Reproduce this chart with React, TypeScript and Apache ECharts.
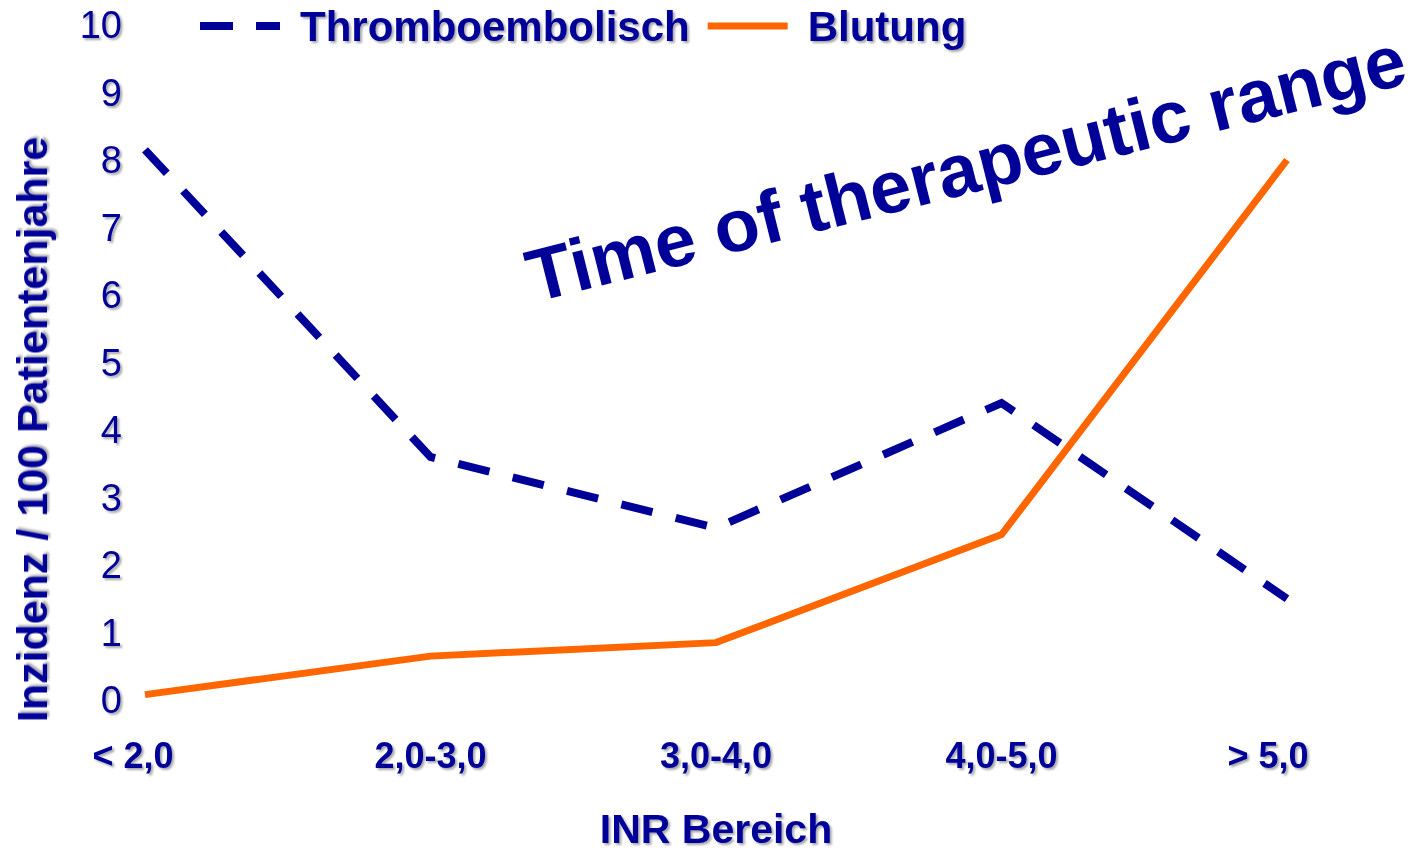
import React, { useEffect, useRef } from "react";
import * as echarts from "echarts";

const categories = ["< 2,0", "2,0-3,0", "3,0-4,0", "4,0-5,0", "> 5,0"];
const thromboValues = [8.15, 3.6, 2.55, 4.4, 1.5];
const blutungValues = [0.08, 0.65, 0.85, 2.45, 8.0];
const seriesNames = ["Thromboembolisch", "Blutung"];
const yAxisName = "Inzidenz / 100 Patientenjahre";
const xAxisName = "INR Bereich";
const annotation = "Time of therapeutic range";

const NAVY = "#000099";
const ORANGE = "#FF6600";
const FONT = "'Liberation Sans', Arial, Helvetica, sans-serif";
const shadow = {
  textShadowColor: "rgba(0,0,0,0.35)",
  textShadowBlur: 2,
  textShadowOffsetX: 2,
  textShadowOffsetY: 2,
};

const labelPads = [
  [0, 24, 0, 0],
  [0, 0, 0, 0],
  [0, 0, 0, 0],
  [0, 0, 0, 0],
  [0, 38, 0, 0],
];

export default function App() {
  const ref = useRef<HTMLDivElement>(null);
  useEffect(() => {
    if (!ref.current) return;
    const chart = echarts.init(ref.current, null, { renderer: "svg" });
    chart.setOption({
      animation: false,
      backgroundColor: "#ffffff",
      grid: {
        left: 145,
        right: 134,
        top: 25,
        bottom: 154,
        containLabel: false,
        outerBoundsMode: "none",
      },
      legend: {
        left: 195,
        top: 0,
        itemWidth: 80,
        itemHeight: 8,
        itemGap: 18,
        textStyle: {
          color: NAVY,
          fontSize: 42,
          fontWeight: "bold",
          fontFamily: FONT,
          padding: [0, 0, 0, 15],
          ...shadow,
        },
        data: [
          { name: seriesNames[0], icon: "path://M0,0h33v8h-33z M56,0h24v8h-24z" },
          { name: seriesNames[1], icon: "path://M0,0h78v7h-78z" },
        ],
      },
      xAxis: {
        type: "category",
        data: categories.map((c, i) => ({ value: c, textStyle: { padding: labelPads[i] } })),
        boundaryGap: false,
        axisLine: { show: false },
        axisTick: { show: false },
        splitLine: { show: false },
        axisLabel: {
          color: NAVY,
          fontSize: 36,
          fontWeight: "bold",
          fontFamily: FONT,
          margin: 37,
          ...shadow,
        },
        name: xAxisName,
        nameLocation: "middle",
        nameGap: 108,
        nameTextStyle: {
          color: NAVY,
          fontSize: 41,
          lineHeight: 41,
          fontWeight: "bold",
          fontFamily: FONT,
          ...shadow,
        },
      },
      yAxis: {
        type: "value",
        min: 0,
        max: 10,
        interval: 1,
        axisLine: { show: false },
        axisTick: { show: false },
        splitLine: { show: false },
        axisLabel: {
          color: NAVY,
          fontSize: 38,
          fontFamily: FONT,
          margin: 23,
          ...shadow,
        },
        name: yAxisName,
        nameLocation: "middle",
        nameGap: 92,
        nameRotate: 90,
        nameTextStyle: {
          color: NAVY,
          fontSize: 43,
          fontWeight: "bold",
          fontFamily: FONT,
          padding: [0, 134, 0, 0],
          ...shadow,
        },
      },
      series: [
        {
          name: seriesNames[0],
          type: "line",
          data: thromboValues,
          symbol: "none",
          lineStyle: { color: NAVY, width: 8, type: [32, 24], cap: "butt", join: "miter" },
          itemStyle: { color: NAVY },
        },
        {
          name: seriesNames[1],
          type: "line",
          data: blutungValues,
          symbol: "none",
          lineStyle: { color: ORANGE, width: 7, join: "miter" },
          itemStyle: { color: ORANGE },
        },
      ],
      graphic: [
        {
          type: "text",
          x: 966,
          y: 168,
          rotation: 0.245,
          style: {
            text: annotation,
            fill: NAVY,
            fontSize: 74,
            fontWeight: "bold",
            fontFamily: FONT,
            align: "center",
            verticalAlign: "middle",
          },
        },
      ],
    });
    return () => chart.dispose();
  }, []);
  return (
    <div
      ref={ref}
      style={{ position: "fixed", left: 0, top: 0, width: 1421, height: 854 }}
    />
  );
}
